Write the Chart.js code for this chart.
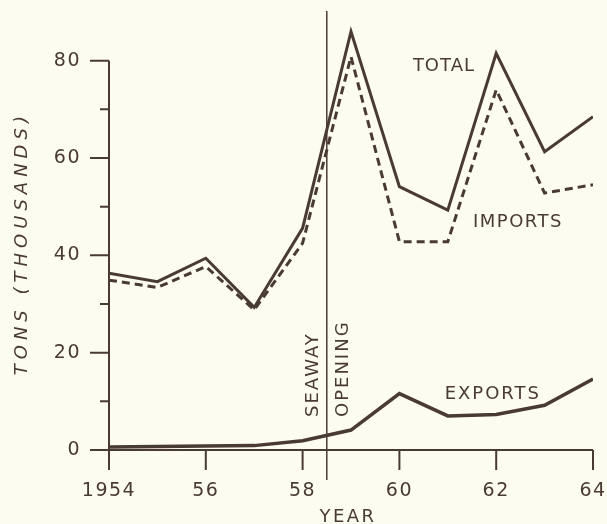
<!DOCTYPE html>
<html>
<head>
<meta charset="utf-8">
<script src="https://cdn.jsdelivr.net/npm/chart.js@4.4.0/dist/chart.umd.min.js"></script>
<style>
  html, body { margin: 0; padding: 0; background: #fcfcf0; }
</style>
</head>
<body>
<canvas id="chart" width="607" height="524"></canvas>
<script>
// Data (thousands of tons)
const years = [1954, 1955, 1956, 1957, 1958, 1959, 1960, 1961, 1962, 1963, 1964];
const totalTons = [36.3, 34.6, 39.4, 29.3, 45.6, 86.0, 54.1, 49.3, 81.5, 61.3, 68.5];
const importTons = [34.9, 33.4, 37.7, 28.8, 42.5, 80.8, 42.8, 42.8, 74.0, 52.8, 54.5];
const exportTons = [0.6, 0.7, 0.8, 0.9, 1.9, 4.1, 11.6, 7.0, 7.3, 9.2, 14.6];

const xTickLabels = { 1954: '1954', 1956: '56', 1958: '58', 1960: '60', 1962: '62', 1964: '64' };
const yTicks = [0, 20, 40, 60, 80];
const yMinorTicks = [10, 30, 50, 70];
const seawayYear = 1958.5;

const INK = '#4a3a35';
const FONT = "'DejaVu Sans', sans-serif";

const toPoints = values => values.map((v, i) => ({ x: years[i], y: v }));

// Text helper with letter spacing
function spacedText(ctx, text, x, y, opts) {
    ctx.save();
    ctx.font = opts.font;
    ctx.fillStyle = INK;
    ctx.letterSpacing = (opts.spacing || 0) + 'px';
    ctx.textAlign = opts.align || 'center';
    ctx.textBaseline = 'middle';
    ctx.translate(x, y);
    if (opts.rotate) ctx.rotate(opts.rotate);
    ctx.fillText(text, 0, 0);
    ctx.restore();
}

// Axes, ticks, seaway line and labels
const annotations = {
    id: 'annotations',
    beforeDraw(chart) {
        chart.ctx.letterSpacing = '1.5px';
    },
    beforeDatasetsDraw(chart) {
        const { ctx, scales: { x, y } } = chart;
        ctx.save();
        ctx.strokeStyle = INK;
        ctx.lineWidth = 2;
        ctx.lineCap = 'butt';

        // y axis line and ticks
        ctx.beginPath();
        ctx.moveTo(x.getPixelForValue(1954), y.getPixelForValue(80));
        ctx.lineTo(x.getPixelForValue(1954), y.getPixelForValue(0));
        yTicks.forEach(v => {
            ctx.moveTo(x.getPixelForValue(1954) - 19, y.getPixelForValue(v));
            ctx.lineTo(x.getPixelForValue(1954), y.getPixelForValue(v));
        });
        yMinorTicks.forEach(v => {
            ctx.moveTo(x.getPixelForValue(1954) - 9, y.getPixelForValue(v));
            ctx.lineTo(x.getPixelForValue(1954), y.getPixelForValue(v));
        });

        // x axis line and ticks
        ctx.moveTo(x.getPixelForValue(1954), y.getPixelForValue(0));
        ctx.lineTo(x.getPixelForValue(1964), y.getPixelForValue(0));
        Object.keys(xTickLabels).forEach(yr => {
            ctx.moveTo(x.getPixelForValue(+yr), y.getPixelForValue(0));
            ctx.lineTo(x.getPixelForValue(+yr), y.getPixelForValue(0) + 20);
        });
        ctx.stroke();

        // seaway opening line
        ctx.lineWidth = 1.5;
        ctx.beginPath();
        ctx.moveTo(x.getPixelForValue(seawayYear), chart.chartArea.top - 1);
        ctx.lineTo(x.getPixelForValue(seawayYear), y.getPixelForValue(0) + 30);
        ctx.stroke();
        ctx.restore();

        const sx = x.getPixelForValue(seawayYear);
        const base = y.getPixelForValue(0) - 33;
        spacedText(ctx, 'SEAWAY', sx - 13, base, { font: '18px ' + FONT, spacing: 2, align: 'left', rotate: -Math.PI / 2 });
        spacedText(ctx, 'OPENING', sx + 17, base, { font: '18px ' + FONT, spacing: 2, align: 'left', rotate: -Math.PI / 2 });

        spacedText(ctx, 'TOTAL', x.getPixelForValue(1960.92), y.getPixelForValue(78.9), { font: '18px ' + FONT, spacing: 1 });
        spacedText(ctx, 'IMPORTS', x.getPixelForValue(1962.45), y.getPixelForValue(46.8), { font: '18px ' + FONT, spacing: 1.5 });
        spacedText(ctx, 'EXPORTS', x.getPixelForValue(1961.93), y.getPixelForValue(11.5), { font: '18px ' + FONT, spacing: 2 });

        // axis titles
        const area = chart.chartArea;
        spacedText(ctx, 'YEAR', (area.left + area.right) / 2 - 3, 517, { font: '18px ' + FONT, spacing: 2.5 });
        spacedText(ctx, 'TONS (THOUSANDS)', 22, y.getPixelForValue(42.5), { font: 'italic 18px ' + FONT, spacing: 5, rotate: -Math.PI / 2 });
    }
};

new Chart(document.getElementById('chart'), {
    type: 'line',
    data: {
        datasets: [
            {
                label: 'EXPORTS',
                data: toPoints(exportTons),
                borderColor: INK,
                borderWidth: 3.5
            },
            {
                label: 'IMPORTS',
                data: toPoints(importTons),
                borderColor: INK,
                borderWidth: 3,
                borderDash: [8, 5]
            },
            {
                label: 'TOTAL',
                data: toPoints(totalTons),
                borderColor: INK,
                borderWidth: 3
            }
        ]
    },
    options: {
        responsive: false,
        animation: false,
        devicePixelRatio: 1,
        layout: { autoPadding: false, padding: { top: 12, right: 14, left: 0, bottom: 0 } },
        elements: {
            line: { tension: 0, borderJoinStyle: 'miter', fill: false },
            point: { radius: 0, hoverRadius: 0 }
        },
        plugins: {
            legend: { display: false },
            tooltip: { enabled: false }
        },
        scales: {
            x: {
                type: 'linear',
                min: 1954,
                max: 1964,
                afterBuildTicks: s => { s.ticks = Object.keys(xTickLabels).map(v => ({ value: +v })); },
                afterFit: s => { s.height = 74; s.paddingLeft = 0; s.paddingRight = 0; },
                grid: { display: false, drawTicks: false },
                border: { display: false },
                ticks: {
                    color: INK,
                    padding: 30,
                    maxRotation: 0,
                    autoSkip: false,
                    font: { family: FONT, size: 19 },
                    callback: v => xTickLabels[v]
                }
            },
            y: {
                min: 0,
                max: 90,
                afterBuildTicks: s => { s.ticks = yTicks.map(v => ({ value: v })); },
                afterFit: s => { s.width = 109; s.paddingTop = 0; s.paddingBottom = 0; },
                grid: { display: false, drawTicks: false },
                border: { display: false },
                ticks: {
                    color: INK,
                    padding: 28,
                    font: { family: FONT, size: 19 }
                }
            }
        }
    },
    plugins: [annotations]
});
</script>
</body>
</html>
